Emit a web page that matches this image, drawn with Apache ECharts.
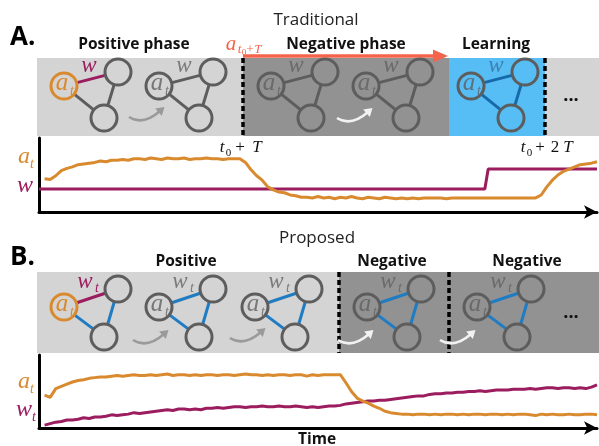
<!DOCTYPE html>
<html>
<head>
<meta charset="utf-8">
<script src="https://cdn.jsdelivr.net/npm/echarts@6/dist/echarts.min.js"></script>
<style>
html, body { margin: 0; padding: 0; background: #fff; }
#main { width: 599px; height: 446px; }
</style>
</head>
<body>
<div id="main"></div>
<script>
// time steps shared by the traces
var time = [1,2,3,4,5,6,7,8,9,10,11,12,13,14,15,16,17,18,19,20,
  21,22,23,24,25,26,27,28,29,30,31,32,33,34,35,36,37,38,39,40,
  41,42,43,44,45,46,47,48,49,50,51,52,53,54,55,56,57,58,59,60,
  61,62,63,64,65,66,67,68,69,70,71,72,73,74,75,76,77,78,79,80,
  81,82,83,84,85,86,87,88,89,90,91,92,93,94,95,96,97,98,99,100];

// A. Traditional
var atA = [.45,.44,.49,.56,.59,.61,.64,.65,.66,.67,
  .69,.68,.70,.70,.71,.70,.72,.72,.71,.73,
  .72,.71,.73,.72,.72,.73,.71,.72,.72,.73,
  .72,.72,.71,.72,.72,.72,.67,.57,.49,.43,
  .34,.30,.27,.26,.23,.22,.20,.20,.19,.21,
  .19,.20,.18,.20,.19,.21,.19,.18,.20,.19,
  .18,.20,.19,.18,.19,.18,.19,.18,.19,.19,
  .19,.19,.18,.19,.19,.19,.19,.19,.19,.19,
  .19,.19,.19,.19,.19,.19,.19,.19,.19,.23,
  .34,.43,.50,.55,.58,.61,.64,.65,.66,.68];
var wTimeA = [0, 79.9, 80.5, 100];
var wA = [.31, .31, .58, .58];

// B. Proposed
var atB = [.45,.42,.54,.57,.60,.63,.65,.66,.68,.69,
  .70,.70,.71,.72,.71,.72,.73,.72,.72,.73,
  .72,.73,.74,.72,.73,.73,.72,.73,.72,.73,
  .73,.72,.73,.73,.72,.73,.74,.73,.73,.72,
  .73,.72,.73,.73,.72,.73,.73,.71,.73,.72,
  .73,.73,.73,.73,.62,.50,.41,.37,.34,.30,
  .27,.23,.21,.20,.19,.19,.18,.19,.19,.18,
  .19,.18,.19,.19,.18,.19,.18,.19,.19,.18,
  .19,.19,.18,.19,.18,.19,.19,.18,.17,.19,
  .18,.19,.18,.18,.19,.18,.18,.19,.19,.18];
var wB = [.04,.06,.08,.09,.11,.11,.12,.14,.13,.15,
  .15,.16,.18,.17,.18,.19,.21,.20,.21,.22,
  .23,.24,.25,.24,.26,.26,.25,.26,.25,.27,
  .27,.28,.27,.28,.29,.29,.28,.29,.29,.30,
  .29,.29,.30,.29,.29,.30,.29,.28,.29,.28,
  .29,.30,.30,.31,.33,.34,.35,.36,.37,.37,
  .38,.38,.39,.40,.41,.42,.43,.44,.44,.46,
  .47,.47,.48,.48,.49,.49,.50,.50,.51,.50,
  .51,.52,.52,.52,.53,.53,.53,.54,.53,.54,
  .55,.55,.54,.55,.55,.54,.55,.54,.56,.59];

var chart = echarts.init(document.getElementById('main'));

var ORANGE = '#d98a2e', PURPLE = '#9b1d5f', GRAY = '#5d5d5d', BLUE = '#1f7cc2';
var SERIF = '"Liberation Serif", "DejaVu Serif", serif';
var SANS = '"Open Sans", Lato, sans-serif';
var g = [];

function rect(x, y, w, h, fill) {
    g.push({ type: 'rect', silent: true, z: 0, shape: { x: x, y: y, width: w, height: h }, style: { fill: fill } });
}
function line(x1, y1, x2, y2, stroke, width, dash) {
    g.push({ type: 'line', silent: true, z: 2, shape: { x1: x1, y1: y1, x2: x2, y2: y2 },
        style: { stroke: stroke, lineWidth: width, lineDash: dash || null } });
}
function circle(cx, cy, r, stroke) {
    g.push({ type: 'circle', silent: true, z: 3, shape: { cx: cx, cy: cy, r: r },
        style: { fill: 'none', stroke: stroke, lineWidth: 3 } });
}
function text(x, y, str, font, fill, align) {
    g.push({ type: 'text', silent: true, z: 4, x: x, y: y,
        style: { text: str, font: font, fill: fill, textAlign: align || 'center', textVerticalAlign: 'middle',
                 align: align || 'center', verticalAlign: 'middle' } });
}
function it(size) { return 'italic ' + size + 'px ' + SERIF; }

// small network: a_t node, two others
function net(cx, cy, o) {
    var p = [[cx, cy], [cx + 54, cy + o.dy1], [cx + 40, cy + o.dy2]];
    var r = 13.5;
    function edge(i, j, c) {
        var dx = p[j][0] - p[i][0], dy = p[j][1] - p[i][1], d = Math.sqrt(dx * dx + dy * dy);
        line(p[i][0] + dx / d * r, p[i][1] + dy / d * r, p[j][0] - dx / d * r, p[j][1] - dy / d * r, c, 3);
    }
    edge(0, 1, o.ab); edge(0, 2, o.ac); edge(1, 2, o.bc);
    circle(p[0][0], p[0][1], 13, o.node || GRAY);
    circle(p[1][0], p[1][1], 13, GRAY);
    circle(p[2][0], p[2][1], 13, GRAY);
    text(cx - 2, cy - 3, 'a', it(25), o.aColor);
    text(cx + 8, cy + 5, 't', it(14), o.aColor);
    if (o.sub) {
        text(cx + 21, cy - 25, 'w', it(23), o.wColor);
        text(cx + 33, cy - 19, 't', it(14), o.wColor);
    } else {
        text(cx + 25, cy - 20, 'w', it(23), o.wColor);
    }
}

// curved little arrow
function curl(x, y, color) {
    var x2 = x + 31, y2 = y - 6, cpx = x + 14, cpy = y + 9;
    g.push({ type: 'bezierCurve', silent: true, z: 2,
        shape: { x1: x, y1: y, x2: x2, y2: y2, cpx1: cpx, cpy1: cpy },
        style: { stroke: color, lineWidth: 2.5, fill: 'none' } });
    var dx = x2 - cpx, dy = y2 - cpy, d = Math.sqrt(dx * dx + dy * dy);
    var ux = dx / d, uy = dy / d;
    g.push({ type: 'polygon', silent: true, z: 2,
        shape: { points: [[x2 + ux * 6, y2 + uy * 6], [x2 - uy * 5 - ux * 2, y2 + ux * 5 - uy * 2], [x2 + uy * 5 - ux * 2, y2 - ux * 5 - uy * 2]] },
        style: { fill: color } });
}

// ---------- A. Traditional ----------
text(316, 20, 'Traditional', '17px ' + SANS, '#222');
text(10, 38, 'A.', 'bold 26px ' + SANS, '#000', 'left');
text(134, 45, 'Positive phase', 'bold 15.5px ' + SANS, '#111');
text(346, 45, 'Negative phase', 'bold 15.5px ' + SANS, '#111');
text(496, 45, 'Learning', 'bold 15.5px ' + SANS, '#111');

rect(37, 58, 206, 78, '#d4d4d4');
rect(243, 58, 206, 78, '#929292');
rect(449, 58, 96, 78, '#56bef4');
rect(545, 58, 54, 78, '#d4d4d4');
line(243, 58, 243, 136, '#000', 3.5, [5, 3]);
line(545, 58, 545, 136, '#000', 3.5, [5, 3]);

// red arrow over negative phase
line(243, 56, 436, 56, '#f4644d', 3.5);
g.push({ type: 'polygon', silent: true, z: 3, shape: { points: [[433, 49.5], [448, 56], [433, 62.5]] }, style: { fill: '#f4644d' } });
text(231, 44, 'a', it(21), '#f4644d');
text(239.5, 50, 't', it(13), '#f4644d');
text(244, 53, '0', '9px ' + SERIF, '#f4644d');
text(253.5, 50, '+T', it(13), '#f4644d');

net(64, 86, { dy1: -14, dy2: 32, ab: PURPLE, ac: GRAY, bc: GRAY, node: ORANGE, aColor: ORANGE, wColor: PURPLE });
net(159, 86, { dy1: -14, dy2: 32, ab: GRAY, ac: GRAY, bc: GRAY, aColor: '#777', wColor: '#7a7a7a' });
net(271, 86, { dy1: -14, dy2: 32, ab: GRAY, ac: GRAY, bc: GRAY, aColor: '#6a6a6a', wColor: '#6a6a6a' });
net(366, 86, { dy1: -14, dy2: 32, ab: GRAY, ac: GRAY, bc: GRAY, aColor: '#6a6a6a', wColor: '#6a6a6a' });
net(471, 86, { dy1: -14, dy2: 32, ab: '#1769aa', ac: '#1769aa', bc: '#1769aa', aColor: '#5d7080', wColor: '#3f80b3' });
curl(129, 117, '#9a9a9a');
curl(337, 118, '#f2f2f2');
text(571, 96, '...', 'bold 18px ' + SANS, '#111');

// plot labels A
text(24, 157, 'a', it(24), ORANGE);
text(32, 164, 't', it(14), ORANGE);
text(25, 186, 'w', it(24), PURPLE);
text(222, 148, 't', it(17), '#111');
text(228.5, 153, '0', '11px ' + SERIF, '#111');
text(240, 148, '+', '17px ' + SERIF, '#111');
text(257, 148, 'T', it(17), '#111');
text(523, 148, 't', it(17), '#111');
text(529.5, 153, '0', '11px ' + SERIF, '#111');
text(540, 148, '+', '17px ' + SERIF, '#111');
text(555, 148, '2', '17px ' + SERIF, '#111');
text(568, 148, 'T', it(17), '#111');

// ---------- B. Proposed ----------
text(317, 238, 'Proposed', '17px ' + SANS, '#222');
text(10, 258, 'B.', 'bold 26px ' + SANS, '#000', 'left');
text(186, 262, 'Positive', 'bold 15.5px ' + SANS, '#111');
text(392, 262, 'Negative', 'bold 15.5px ' + SANS, '#111');
text(527, 262, 'Negative', 'bold 15.5px ' + SANS, '#111');

rect(37, 272, 302, 81, '#d4d4d4');
rect(339, 272, 260, 81, '#929292');
line(339, 272, 339, 353, '#000', 3.5, [5, 3]);
line(449, 272, 449, 353, '#000', 3.5, [5, 3]);

net(64, 307, { dy1: -18, dy2: 30, ab: PURPLE, ac: BLUE, bc: BLUE, node: ORANGE, aColor: ORANGE, wColor: PURPLE, sub: true });
net(159, 307, { dy1: -18, dy2: 30, ab: BLUE, ac: BLUE, bc: BLUE, aColor: '#777', wColor: '#7a7a7a', sub: true });
net(255, 307, { dy1: -18, dy2: 30, ab: BLUE, ac: BLUE, bc: BLUE, aColor: '#777', wColor: '#7a7a7a', sub: true });
net(367, 307, { dy1: -18, dy2: 30, ab: BLUE, ac: BLUE, bc: BLUE, aColor: '#6a6a6a', wColor: '#6a6a6a', sub: true });
net(477, 307, { dy1: -18, dy2: 30, ab: BLUE, ac: BLUE, bc: BLUE, aColor: '#6a6a6a', wColor: '#6a6a6a', sub: true });
curl(133, 340, '#9a9a9a');
curl(230, 338, '#9a9a9a');
curl(338, 340, '#f2f2f2');
curl(440, 340, '#f2f2f2');
text(571, 313, '...', 'bold 18px ' + SANS, '#111');

// plot labels B
text(24, 382, 'a', it(24), ORANGE);
text(32, 389, 't', it(14), ORANGE);
text(24, 410, 'w', it(24), PURPLE);
text(34, 417, 't', it(14), PURPLE);
text(317, 440, 'Time', 'bold 15.5px ' + SANS, '#111');

function pairs(xs, ys) {
    return xs.map(function (x, i) { return [x, ys[i]]; });
}

function xAx(i) {
    return {
        type: 'value', gridIndex: i, min: 0, max: 100,
        axisLine: { show: true, onZero: false, symbol: ['none', 'arrow'], symbolSize: [10, 13], lineStyle: { color: '#000', width: 3 } },
        axisTick: { show: false }, axisLabel: { show: false }, splitLine: { show: false }
    };
}
function yAx(i) {
    return {
        type: 'value', gridIndex: i, min: 0, max: 1,
        axisLine: { show: true, onZero: false, lineStyle: { color: '#000', width: 3 } },
        axisTick: { show: false }, axisLabel: { show: false }, splitLine: { show: false }
    };
}
function trace(name, data, color, i) {
    return {
        name: name, type: 'line', xAxisIndex: i, yAxisIndex: i, data: data,
        showSymbol: false, symbol: 'none', smooth: false, silent: true,
        lineStyle: { color: color, width: 3 }
    };
}

var option = {
    animation: false,
    graphic: g,
    grid: [
        { left: 39, top: 138, width: 558, height: 74 },
        { left: 39, top: 355, width: 558, height: 73 }
    ],
    xAxis: [xAx(0), xAx(1)],
    yAxis: [yAx(0), yAx(1)],
    series: [
        trace('w', pairs(wTimeA, wA), PURPLE, 0),
        trace('a_t', pairs(time, atA), ORANGE, 0),
        trace('w_t', pairs(time, wB), PURPLE, 1),
        trace('a_t', pairs(time, atB), ORANGE, 1)
    ]
};

chart.setOption(option);
</script>
</body>
</html>
